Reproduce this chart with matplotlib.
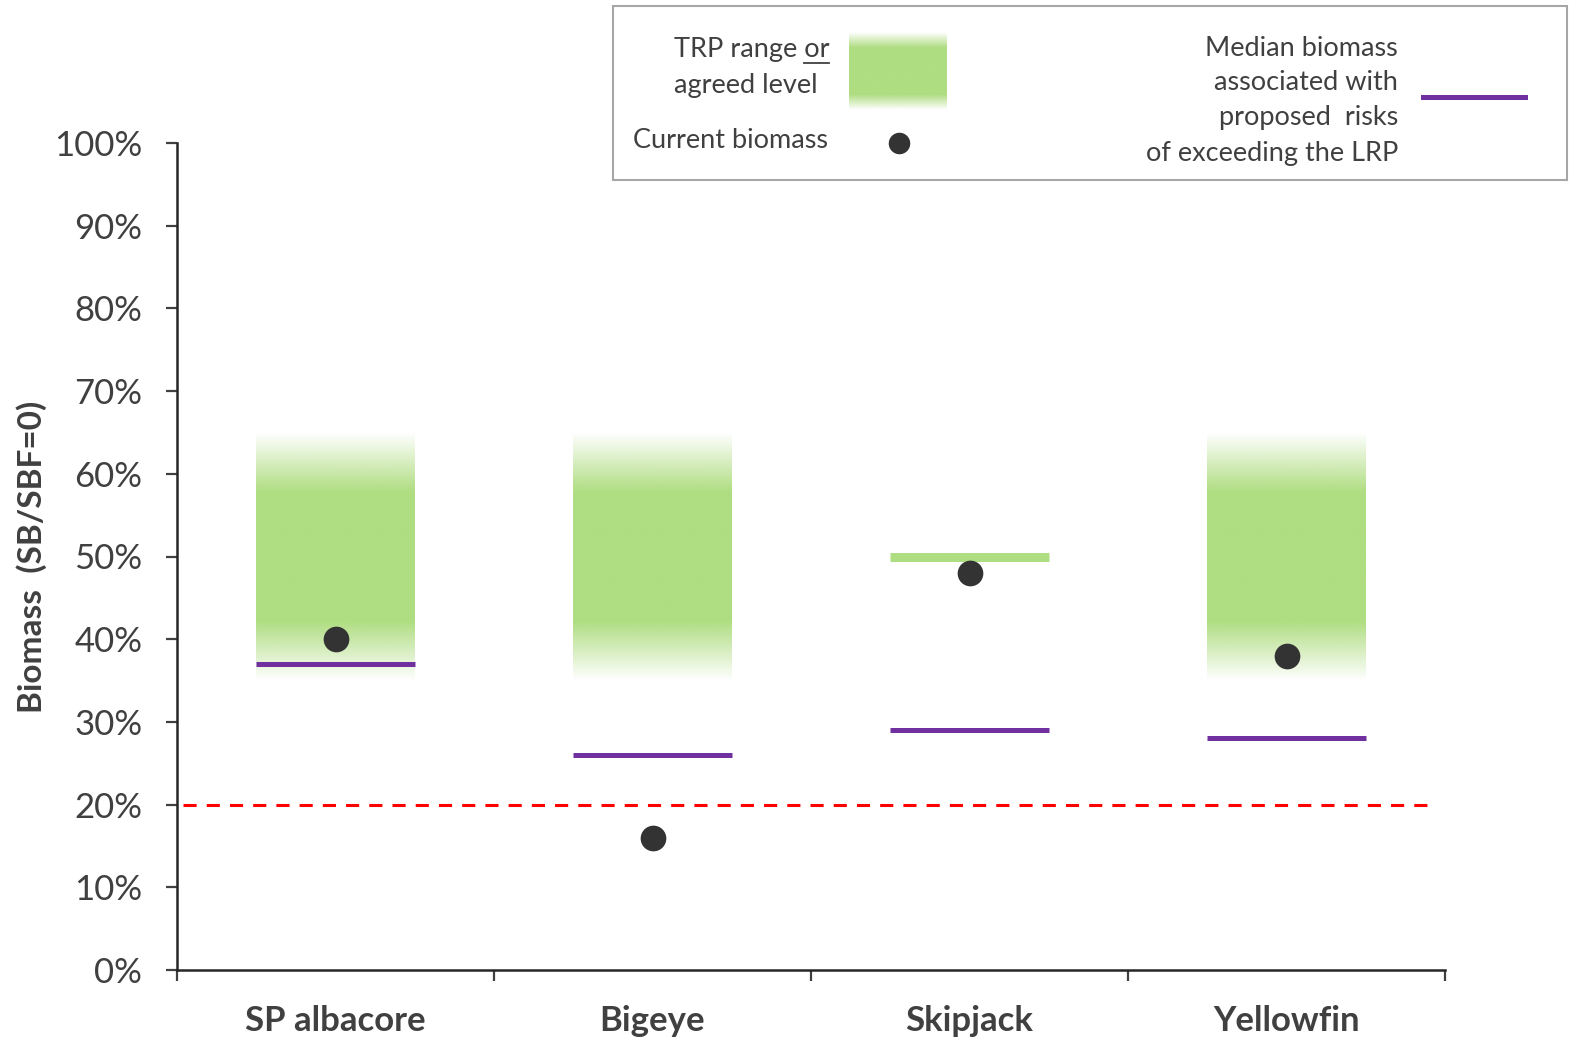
import numpy as np
import matplotlib
matplotlib.use("Agg")
import matplotlib.pyplot as plt
from matplotlib.patches import Rectangle
from matplotlib.lines import Line2D
from matplotlib.ticker import PercentFormatter

plt.rcParams["font.family"] = ["Lato", "DejaVu Sans"]

species = ["SP albacore", "Bigeye", "Skipjack", "Yellowfin"]
trp_low = [0.35, 0.35, None, 0.35]       # TRP range (faded band), lower edge
trp_high = [0.65, 0.65, None, 0.65]      # TRP range (faded band), upper edge
agreed_level = [None, None, 0.50, None]  # single agreed TRP level
current_biomass = [0.40, 0.16, 0.48, 0.38]
median_biomass = [0.37, 0.26, 0.29, 0.28]
lrp = 0.20

GREEN = "#AFDD81"
PURPLE = "#7030A0"
DOT = "#333333"
TEXT = "#404040"
W, H = 1575, 1042


def fade_column(ax, x0, x1, y0, y1, fade_frac):
    n = 300
    t = np.linspace(0, 1, n)
    alpha = np.clip(np.minimum(t, 1 - t) / fade_frac, 0, 1)
    img = np.zeros((n, 1, 4))
    img[..., :3] = matplotlib.colors.to_rgb(GREEN)
    img[..., 3] = alpha[:, None]
    ax.imshow(img, extent=(x0, x1, y0, y1), origin="lower", aspect="auto",
              interpolation="bilinear", zorder=1)


fig = plt.figure(figsize=(W / 100, H / 100), dpi=100)
ax = fig.add_axes([177 / W, 1 - 970 / H, 1268 / W, 827 / H])

x = np.arange(len(species)) + 0.5
bw = 0.5
for i, xc in enumerate(x):
    if trp_low[i] is not None:
        fade_column(ax, xc - bw / 2, xc + bw / 2, trp_low[i], trp_high[i], 0.24)
    if agreed_level[i] is not None:
        ax.hlines(agreed_level[i], xc - bw / 2, xc + bw / 2, color=GREEN,
                  lw=6.5, zorder=2)
    ax.hlines(median_biomass[i], xc - bw / 2, xc + bw / 2, color=PURPLE,
              lw=3.6, zorder=3)

ax.plot(x, current_biomass, "o", color=DOT, ms=18.5, mec="none", zorder=4)
ax.plot([0.02, 3.96], [lrp, lrp], color="red", lw=2.2, dashes=(4.3, 3.3),
        zorder=2)

ax.set_xlim(0, 4)
ax.set_ylim(0, 1)
ax.set_yticks(np.arange(0, 1.01, 0.1))
ax.yaxis.set_major_formatter(PercentFormatter(1.0, decimals=0))
ax.set_xticks(np.arange(0, 5))
ax.set_xticklabels([])
ax.set_xticks(x, minor=True)
ax.set_xticklabels(species, minor=True, fontsize=25, fontweight="bold",
                   color=TEXT)
ax.tick_params(axis="x", which="minor", length=0, pad=25)
ax.tick_params(axis="x", which="major", length=8, width=1.6, color=TEXT)
ax.tick_params(axis="y", length=8, width=1.6, color=TEXT, labelsize=25,
               labelcolor=TEXT, pad=17)
for s in ("top", "right"):
    ax.spines[s].set_visible(False)
for s in ("left", "bottom"):
    ax.spines[s].set_linewidth(1.8)
    ax.spines[s].set_color("#262626")
ax.set_ylabel("Biomass  (SB/SBF=0)", fontsize=24, fontweight="bold",
              color=TEXT, labelpad=5)


def px(xp, yp):
    return xp / W, 1 - yp / H


# legend panel
fig.patches.append(Rectangle(px(613, 180), 954 / W, 174 / H,
                             transform=fig.transFigure, fill=False,
                             edgecolor="#A6A6A6", lw=1.5))

lax = fig.add_axes([849 / W, 1 - 110 / H, 98 / W, 78 / H])
fade_column(lax, 0, 1, 0, 1, 0.2)
lax.set_xlim(0, 1)
lax.set_ylim(0, 1)
lax.axis("off")

fs = 19.5
t1 = fig.text(*px(674, 50), "TRP range or", fontsize=fs, color=TEXT,
              ha="left", va="center")
fig.text(*px(674, 85), "agreed level", fontsize=fs, color=TEXT,
         ha="left", va="center")
fig.text(*px(633, 141), "Current biomass", fontsize=fs, color=TEXT,
         ha="left", va="center")
fig.lines.append(Line2D([899 / W], [1 - 143 / H], marker="o", ms=15.5,
                        color=DOT, mec="none", transform=fig.transFigure))

# underline the "or"
renderer = fig.canvas.get_renderer()
bb = t1.get_window_extent(renderer)
tmp = fig.text(0, 0, "or", fontsize=fs)
w_or = tmp.get_window_extent(renderer).width
tmp.remove()
uy = 1 - 63 / H
fig.lines.append(Line2D([(bb.x1 - w_or) / W, bb.x1 / W], [uy, uy],
                        color=TEXT, lw=1.3, transform=fig.transFigure))

for yy, line in zip([48, 83, 118, 153],
                    ["Median biomass", "associated with", "proposed  risks",
                     "of exceeding the LRP"]):
    fig.text(*px(1398, yy), line, fontsize=fs, color=TEXT, ha="right",
             va="center")
fig.lines.append(Line2D([1423 / W, 1525 / W], [1 - 97 / H, 1 - 97 / H],
                        color=PURPLE, lw=3.6, transform=fig.transFigure))

fig.savefig("out.png", dpi=100)
